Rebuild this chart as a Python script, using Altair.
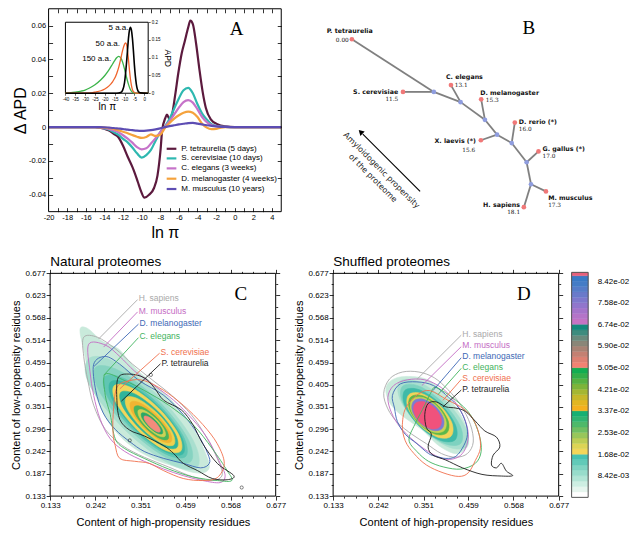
import altair as alt
import pandas as pd

W, H = 623, 522


def PX(v):
    return v * W / 640.0


def PY(v):
    return v * H / 539.0


SANS = "Liberation Sans"
SERIF = "Liberation Serif"
TREEF = "DejaVu Sans"
MINUS = "\u2212"

# ============================ DATA: panel A ============================
lnpi_grid = [-20, -15, -14.5, -14, -13.5, -13, -12.5, -12, -11.5, -11, -10.5, -10, -9.5, -9, -8.5, -8,
             -7.5, -7, -6.5, -6, -5.5, -5, -4.5, -4, -3.5, -3, -2.5, -2, -1.5, -1, 0, 5]
ptet_x = [-20, -15, -14.5, -14, -13.5, -13, -12.5, -12, -11.5, -11, -10.75, -10.4, -10.06, -9.7, -9.2,
          -8.67, -8.3, -7.97, -7.8, -7.45, -7.28, -7.0, -6.76, -6.4, -6.06, -5.7, -5.36, -5.0, -4.77,
          -4.49, -4.14, -3.79, -3.44, -3.1, -2.57, -1.87, -1.0, 0, 5]
ptet_y = [0, 0, -0.0003, -0.001, -0.002, -0.004, -0.006, -0.011, -0.0175, -0.0235, -0.027, -0.0326,
          -0.038, -0.0417, -0.040, -0.036, -0.0287, -0.0135, -0.002, 0.0055, 0.0074, 0.0046, 0.0068,
          0.0189, 0.032, 0.0436, 0.051, 0.0589, 0.063, 0.0608, 0.049, 0.034, 0.0207, 0.0113, 0.0046,
          0.0017, 0.0004, 0, 0]
scer_y = [0, 0, -0.0002, -0.0008, -0.0015, -0.003, -0.0045, -0.007, -0.009, -0.012, -0.0155, -0.018,
          -0.0165, -0.0135, -0.008, -0.003, 0.0005, 0.005, 0.011, 0.017, 0.0218, 0.0232, 0.020, 0.0135,
          0.008, 0.0045, 0.0018, 0.0008, 0.0003, 0.0001, 0, 0]
cele_y = [0, 0, -0.0002, -0.0006, -0.001, -0.002, -0.003, -0.0048, -0.0068, -0.0092, -0.0118, -0.0131,
          -0.0125, -0.0097, -0.0065, -0.003, 0.0003, 0.0035, 0.0075, 0.0115, 0.0148, 0.016, 0.0145,
          0.0105, 0.006, 0.003, 0.0013, 0.0006, 0.0002, 0.0001, 0, 0]
dmel_y = [0, 0, -0.0001, -0.0003, -0.0006, -0.001, -0.0018, -0.0027, -0.0036, -0.0047, -0.0057, -0.0064,
          -0.0058, -0.0043, -0.0052, -0.0045, -0.0005, 0.0025, 0.005, 0.007, 0.0085, 0.0092, 0.0085,
          0.006, 0.002, -0.0003, -0.0012, -0.001, -0.0003, 0, 0, 0]
mmus_y = [0, 0, 0, -0.0001, -0.0003, -0.0005, -0.0008, -0.0011, -0.0015, -0.0018, -0.0021, -0.0022,
          -0.0021, -0.0018, -0.0013, -0.0007, 0, 0.0006, 0.0011, 0.0016, 0.002, 0.0024, 0.0025, 0.0021,
          0.0016, 0.0011, 0.0007, 0.0004, 0.0002, 0.0001, 0, 0]
A_names = ["P. tetraurelia (5 days)", "S. cerevisiae (10 days)", "C. elegans (3  weeks)",
           "D. melanogaster (4 weeks)", "M. musculus (10 years)"]
A_colors = ["#5c1a3e", "#2eb8b0", "#c673c9", "#f5a23c", "#5d4db3"]
A_legend_y = [-0.0128, -0.0185, -0.0244, -0.0305, -0.0366]

# inset
black_x = [-40, -14, -12, -11, -10, -9, -8.5, -8, -7.5, -7, -6.5, -6, -5.5, -5, -4.5, -4, -3, -2, 2]
black_y = [0, 0, 0.002, 0.008, 0.03, 0.085, 0.12, 0.155, 0.178, 0.186, 0.178, 0.155, 0.12, 0.08, 0.048,
           0.025, 0.005, 0.001, 0]
red_x = [-40, -30, -27, -25, -22, -20, -18, -16, -15, -14, -13, -12, -11, -10, -9.5, -9, -8.5, -8, -7.5,
         -7, -6.5, -6, -5, -4, 2]
red_y = [0, 0, 0.001, 0.003, 0.007, 0.012, 0.02, 0.033, 0.042, 0.055, 0.072, 0.095, 0.12, 0.138, 0.142,
         0.138, 0.12, 0.095, 0.065, 0.04, 0.022, 0.01, 0.002, 0, 0]
green_x = [-40, -38, -35, -32, -30, -28, -25, -22, -20, -18, -16, -15, -14, -13, -12, -11, -10, -9, -8,
           -7, -6, -5, -4, 2]
green_y = [0, 0.001, 0.003, 0.006, 0.009, 0.014, 0.024, 0.038, 0.05, 0.065, 0.083, 0.092, 0.1, 0.104,
           0.1, 0.088, 0.068, 0.045, 0.025, 0.01, 0.003, 0.001, 0, 0]
inset_labels = ["5 a.a.", "50 a.a.", "150 a.a."]
inset_label_x = [-8.0, -12.3, -16.8]
inset_label_y = [0.183, 0.140, 0.097]

# ============================ DATA: panel B (tree) ============================
leaf_names = ["P. tetraurelia", "S. cerevisiae", "C. elegans", "D. melanogaster", "X. laevis (*)",
              "D. rerio (*)", "G. gallus (*)", "M. musculus", "H. sapiens"]
leaf_vals = ["0.00", "11.5", "13.1", "15.3", "15.6", "16.0", "17.0", "17.3", "18.1"]
leaf_x = [10.4, 26.8, 42.2, 51.9, 51.8, 62.7, 70.3, 72.7, 65.6]
leaf_y = [61.8, 44.8, 47.0, 42.4, 29.2, 34.9, 25.6, 12.7, 7.6]
node_x = [36.7, 45.3, 53.1, 57.0, 61.7, 66.5, 67.9]
node_y = [44.8, 41.5, 35.8, 31.0, 28.3, 22.1, 15.0]
edge_from = ["L0", "L1", "N0", "L2", "N1", "L3", "N2", "L4", "N3", "L5", "N4", "L6", "N5", "L7", "L8"]
edge_to = ["N0", "N0", "N1", "N1", "N2", "N2", "N3", "N3", "N4", "N4", "N5", "N5", "N6", "N6", "N6"]
name_x = [9.7, 25.3, 40.6, 51.6, 50.2, 64.0, 71.6, 73.4, 64.4]
name_y = [64.4, 44.8, 49.7, 44.4, 28.8, 35.2, 26.5, 10.6, 8.4]
name_align = ["center", "right", "left", "left", "right", "left", "left", "left", "right"]
val_x = [9.4, 25.3, 43.4, 53.4, 47.9, 64.0, 71.6, 73.4, 64.4]
val_y = [61.7, 42.6, 46.9, 42.3, 26.2, 32.9, 24.0, 8.3, 6.0]
val_align = ["right", "right", "left", "left", "center", "left", "left", "left", "right"]
arrow_x = [32.3, 13.9]
arrow_y = [12.7, 31.2]
arrow_text = ["Amyloidogenic propensity", "of the proteome"]
arrow_text_x = [19.8, 17.0]
arrow_text_y = [19.4, 16.9]

# ============================ DATA: panels C and D ============================
x_ticks = [0.133, 0.242, 0.351, 0.459, 0.568, 0.677]
y_ticks = [0.133, 0.187, 0.242, 0.296, 0.351, 0.405, 0.459, 0.514, 0.568, 0.623, 0.677]

C_fill_x = [
    [0.205, 0.224, 0.259, 0.297, 0.320, 0.348, 0.384, 0.421, 0.456, 0.487, 0.508, 0.517, 0.503, 0.473,
     0.431, 0.384, 0.337, 0.297, 0.266, 0.243, 0.226, 0.215],
    [0.4875, 0.477, 0.3935, 0.286, 0.225, 0.228, 0.3115, 0.419],
    [0.4725, 0.4636, 0.3925, 0.301, 0.2425, 0.2515, 0.3225, 0.414],
    [0.46, 0.4534, 0.3935, 0.3155, 0.265, 0.2717, 0.3315, 0.4096],
    [0.4535, 0.4477, 0.394, 0.324, 0.2785, 0.2844, 0.338, 0.408],
    [0.4475, 0.4425, 0.3935, 0.3294, 0.2875, 0.2926, 0.3415, 0.4057],
    [0.4385, 0.4339, 0.3925, 0.3385, 0.3035, 0.3081, 0.3495, 0.4035],
    [0.4315, 0.4278, 0.3925, 0.3465, 0.3165, 0.3203, 0.3555, 0.4016],
    [0.4245, 0.4213, 0.3915, 0.3527, 0.3275, 0.3308, 0.3605, 0.3994],
    [0.417, 0.4145, 0.39, 0.3579, 0.337, 0.3395, 0.364, 0.3961],
    [0.41, 0.408, 0.3885, 0.3628, 0.346, 0.348, 0.3675, 0.3932],
    [0.4035, 0.4019, 0.3865, 0.3665, 0.3535, 0.3552, 0.3705, 0.3906],
    [0.398, 0.3967, 0.385, 0.3698, 0.36, 0.3613, 0.373, 0.3882],
]
C_fill_y = [
    [0.540, 0.542, 0.511, 0.493, 0.467, 0.436, 0.405, 0.372, 0.329, 0.282, 0.237, 0.204, 0.190, 0.192,
     0.206, 0.223, 0.249, 0.284, 0.327, 0.379, 0.433, 0.485],
    [0.2025, 0.271, 0.3785, 0.462, 0.468, 0.404, 0.2965, 0.213],
    [0.2175, 0.276, 0.3675, 0.4386, 0.4475, 0.389, 0.2975, 0.2265],
    [0.23, 0.2805, 0.3585, 0.4184, 0.425, 0.3746, 0.2965, 0.2367],
    [0.2365, 0.282, 0.352, 0.4057, 0.4115, 0.366, 0.296, 0.2424],
    [0.2425, 0.2844, 0.3485, 0.3975, 0.4025, 0.3607, 0.2965, 0.2476],
    [0.2515, 0.2865, 0.3405, 0.3819, 0.3865, 0.3515, 0.2975, 0.2561],
    [0.2585, 0.2885, 0.3345, 0.3698, 0.3735, 0.3436, 0.2975, 0.2623],
    [0.2655, 0.2907, 0.3295, 0.3593, 0.3625, 0.3374, 0.2985, 0.2688],
    [0.272, 0.2929, 0.325, 0.3495, 0.352, 0.3311, 0.299, 0.2745],
    [0.279, 0.2958, 0.3215, 0.341, 0.343, 0.3262, 0.3005, 0.281],
    [0.2855, 0.2985, 0.3185, 0.3339, 0.3355, 0.3226, 0.3025, 0.2872],
    [0.29, 0.2998, 0.315, 0.3267, 0.328, 0.3182, 0.303, 0.2913],
]
C_fill_col = ["#c9eadb", "#a9dfcf", "#86d3c1", "#5fc6b3", "#3bb8a5", "#f2d65c", "#2fb49b", "#eed04e",
              "#f0b432", "#4bb45a", "#cbd255", "#2aa866", "#f28c7c"]

D_fill_x = [
    [0.260, 0.269, 0.295, 0.335, 0.366, 0.389, 0.412, 0.436, 0.452, 0.459, 0.457, 0.436, 0.412, 0.382,
     0.351, 0.319, 0.288, 0.269],
    [0.454, 0.4528, 0.4055, 0.3397, 0.294, 0.2952, 0.3425, 0.4083],
    [0.4405, 0.4402, 0.399, 0.3412, 0.3005, 0.3009, 0.342, 0.3999],
    [0.4273, 0.4281, 0.393, 0.3426, 0.3063, 0.3055, 0.3405, 0.391],
    [0.4173, 0.4196, 0.3908, 0.3478, 0.3158, 0.3135, 0.3423, 0.3853],
    [0.4075, 0.4106, 0.3863, 0.3487, 0.32, 0.3169, 0.3413, 0.3788],
    [0.401, 0.4046, 0.3835, 0.3502, 0.324, 0.3205, 0.3415, 0.3749],
    [0.3955, 0.3994, 0.381, 0.3513, 0.3275, 0.3237, 0.342, 0.3718],
    [0.3895, 0.3934, 0.378, 0.3524, 0.3315, 0.3277, 0.343, 0.3687],
]
D_fill_y = [
    [0.391, 0.412, 0.424, 0.424, 0.415, 0.396, 0.372, 0.339, 0.308, 0.277, 0.254, 0.237, 0.242, 0.261,
     0.292, 0.315, 0.339, 0.362],
    [0.253, 0.2987, 0.3645, 0.4118, 0.413, 0.3673, 0.3015, 0.2542],
    [0.2615, 0.3022, 0.36, 0.4012, 0.4015, 0.3609, 0.303, 0.2619],
    [0.2703, 0.3066, 0.357, 0.3921, 0.3913, 0.355, 0.3045, 0.2695],
    [0.2793, 0.3113, 0.3543, 0.3831, 0.3808, 0.3488, 0.3058, 0.277],
    [0.2875, 0.3162, 0.3538, 0.3781, 0.375, 0.3463, 0.3088, 0.2844],
    [0.293, 0.3192, 0.3525, 0.3736, 0.37, 0.3439, 0.3105, 0.2895],
    [0.2975, 0.3213, 0.351, 0.3694, 0.3655, 0.3418, 0.312, 0.2937],
    [0.3015, 0.3224, 0.348, 0.3634, 0.3595, 0.3387, 0.313, 0.2977],
]
D_fill_col = ["#c9eadb", "#a9dfcf", "#7ed2c0", "#3fbaa8", "#f2d45a", "#5ab84c", "#c9d254", "#7d7bd2",
              "#f0527c"]

sp_names = ["H. sapiens", "M. musculus", "D. melanogaster", "C. elegans", "S. cerevisiae", "P. tetraurelia"]
sp_colors = ["#a9a9a9", "#c46cc4", "#3d68b5", "#3fb35e", "#f0704e", "#1e1e1e"]

C_sp_x = [
    [0.214, 0.247, 0.290, 0.332, 0.379, 0.426, 0.473, 0.508, 0.536, 0.548, 0.524, 0.477, 0.419, 0.360,
     0.308, 0.266, 0.238, 0.224, 0.214],
    [0.226, 0.266, 0.301, 0.337, 0.384, 0.431, 0.477, 0.513, 0.543, 0.555, 0.543, 0.501, 0.454, 0.407,
     0.360, 0.313, 0.278, 0.254, 0.238, 0.229],
    [0.238, 0.266, 0.301, 0.348, 0.407, 0.454, 0.489, 0.513, 0.517, 0.496, 0.454, 0.407, 0.360, 0.325,
     0.290, 0.261, 0.243],
    [0.266, 0.313, 0.360, 0.419, 0.477, 0.524, 0.560, 0.571, 0.536, 0.477, 0.419, 0.360, 0.313, 0.290,
     0.278, 0.266],
    [0.294, 0.325, 0.360, 0.407, 0.454, 0.501, 0.536, 0.553, 0.536, 0.501, 0.454, 0.407, 0.372, 0.337,
     0.301, 0.290, 0.285, 0.285],
    [0.297, 0.325, 0.360, 0.384, 0.407, 0.449, 0.477, 0.501, 0.536, 0.576, 0.560, 0.524, 0.489, 0.454,
     0.431, 0.407, 0.360, 0.325, 0.301, 0.294],
]
C_sp_y = [
    [0.521, 0.521, 0.493, 0.455, 0.417, 0.379, 0.332, 0.280, 0.225, 0.185, 0.171, 0.180, 0.204, 0.228,
     0.256, 0.296, 0.355, 0.415, 0.474],
    [0.504, 0.502, 0.474, 0.438, 0.403, 0.367, 0.320, 0.273, 0.213, 0.183, 0.166, 0.171, 0.183, 0.199,
     0.218, 0.242, 0.273, 0.320, 0.379, 0.438],
    [0.455, 0.474, 0.455, 0.415, 0.379, 0.332, 0.284, 0.237, 0.213, 0.202, 0.213, 0.225, 0.242, 0.266,
     0.296, 0.336, 0.391],
    [0.431, 0.415, 0.391, 0.355, 0.308, 0.249, 0.195, 0.171, 0.171, 0.180, 0.199, 0.225, 0.249, 0.273,
     0.332, 0.379],
    [0.398, 0.415, 0.415, 0.391, 0.355, 0.308, 0.261, 0.213, 0.178, 0.171, 0.176, 0.195, 0.213, 0.218,
     0.225, 0.256, 0.284, 0.332],
    [0.422, 0.431, 0.422, 0.398, 0.367, 0.344, 0.308, 0.261, 0.213, 0.183, 0.173, 0.176, 0.195, 0.213,
     0.237, 0.256, 0.280, 0.294, 0.320, 0.367],
]
D_sp_x = [
    [0.255, 0.269, 0.300, 0.340, 0.377, 0.410, 0.441, 0.464, 0.471, 0.457, 0.429, 0.394, 0.358, 0.323,
     0.288, 0.265],
    [0.265, 0.279, 0.312, 0.354, 0.394, 0.424, 0.448, 0.459, 0.452, 0.434, 0.405, 0.370, 0.330, 0.295,
     0.274],
    [0.276, 0.295, 0.335, 0.375, 0.412, 0.436, 0.452, 0.457, 0.448, 0.429, 0.405, 0.382, 0.363, 0.335,
     0.307, 0.288, 0.281],
    [0.382, 0.429, 0.464, 0.485, 0.490, 0.476, 0.441, 0.400, 0.363, 0.335, 0.316, 0.330, 0.354, 0.368],
    [0.312, 0.358, 0.410, 0.448, 0.471, 0.485, 0.488, 0.476, 0.459, 0.436, 0.398, 0.358, 0.328, 0.307,
     0.300],
    [0.362, 0.382, 0.405, 0.429, 0.452, 0.476, 0.499, 0.527, 0.535, 0.519, 0.515, 0.527, 0.539, 0.551,
     0.566, 0.539, 0.492, 0.445, 0.405, 0.374, 0.362, 0.370, 0.358, 0.354],
]
D_sp_y = [
    [0.384, 0.419, 0.436, 0.436, 0.422, 0.393, 0.355, 0.308, 0.265, 0.237, 0.228, 0.237, 0.261, 0.284,
     0.313, 0.346],
    [0.374, 0.403, 0.417, 0.417, 0.398, 0.367, 0.327, 0.284, 0.249, 0.228, 0.223, 0.237, 0.266, 0.301,
     0.336],
    [0.379, 0.407, 0.412, 0.403, 0.374, 0.348, 0.315, 0.284, 0.256, 0.230, 0.225, 0.230, 0.237, 0.261,
     0.284, 0.315, 0.348],
    [0.398, 0.367, 0.332, 0.284, 0.242, 0.213, 0.199, 0.204, 0.218, 0.242, 0.270, 0.308, 0.355, 0.384],
    [0.355, 0.391, 0.367, 0.346, 0.320, 0.284, 0.249, 0.220, 0.190, 0.181, 0.190, 0.209, 0.237, 0.268,
     0.308],
    [0.359, 0.363, 0.351, 0.348, 0.340, 0.316, 0.292, 0.277, 0.253, 0.233, 0.209, 0.202, 0.213, 0.194,
     0.183, 0.182, 0.186, 0.202, 0.221, 0.233, 0.253, 0.284, 0.300, 0.332],
]
C_lab_x = [0.344, 0.344, 0.346, 0.346, 0.397, 0.399]
C_lab_y = [0.616, 0.586, 0.556, 0.523, 0.485, 0.459]
C_lead_x = [0.250, 0.262, 0.239, 0.262, 0.301, 0.305]
C_lead_y = [0.517, 0.497, 0.450, 0.428, 0.395, 0.365]
D_lab_x = [0.442, 0.442, 0.442, 0.442, 0.442, 0.442]
D_lab_y = [0.529, 0.501, 0.474, 0.448, 0.421, 0.395]
D_lead_x = [0.335, 0.347, 0.374, 0.386, 0.398, 0.398]
D_lead_y = [0.418, 0.403, 0.391, 0.381, 0.367, 0.351]
C_dot_x = [0.325, 0.595, 0.376]
C_dot_y = [0.269, 0.154, 0.429]

# colour bar
cb_edges = [0, 0.0021, 0.0042, 0.0063, 0.0084, 0.0105, 0.0126, 0.0147, 0.0168, 0.0189, 0.0210, 0.0231,
            0.0253, 0.0274, 0.0295, 0.0316, 0.0337, 0.0358, 0.0379, 0.0400, 0.0421, 0.0442, 0.0463,
            0.0484, 0.0505, 0.0526, 0.0547, 0.0568, 0.0589, 0.0610, 0.0631, 0.0652, 0.0674, 0.0695,
            0.0716, 0.0737, 0.0758, 0.0779, 0.0800, 0.0821, 0.0842, 0.0863, 0.0876]
cb_colors = ["#ffffff", "#e6f5ee", "#cdeee2", "#b2e5d6", "#98dccb", "#80d4c2", "#62cab8", "#45c1b1",
             "#f3d65a", "#dcd455", "#bccd55", "#98c65a", "#70be62", "#4eb96a", "#30b471", "#16b073",
             "#f5b01e", "#e2b622", "#c6b82a", "#a4b732", "#7db43a", "#56b142", "#33ae4a", "#12ad52",
             "#f28272", "#de8072", "#c48072", "#a88274", "#8a8678", "#6a8a7c", "#3e8c7e", "#13897c",
             "#c574c4", "#b474c8", "#a474ca", "#9176cc", "#7e78cc", "#6a7aca", "#567cc8", "#447cc6",
             "#3a7ac6", "#e8607c"]
cb_label_values = [0.0842, 0.0758, 0.0674, 0.0590, 0.0505, 0.0421, 0.0337, 0.0253, 0.0168, 0.00842]

# ============================ geometry ============================
A_XD, A_XR = [-20, 5], [PX(41.7), PX(280.7)]
A_YD, A_YR = [-0.05, 0.07], [PY(210.3), PY(0.8)]
I_XD, I_XR = [-40, 2], [PX(59), PX(144)]
I_YD, I_YR = [0, 0.2], [PY(88), PY(14.7)]
B_XD, B_XR = [0, 100], [PX(320), PX(640)]
B_YD, B_YR = [0, 71.875], [PY(230), PY(0)]
P_D = [0.133, 0.677]
C_XR = [PX(43.3), PX(275)]
D_XR = [PX(334), PX(565.7)]
CD_YR = [PY(504), PY(274)]
K_XD, K_XR = [0, 1], [PX(579), PX(596)]
K_YD, K_YR = [0, 0.0876], [PY(505.3), PY(273)]


def sc(dom, rng):
    return alt.Scale(domain=list(dom), range=list(rng), zero=False, nice=False)


def XY(g, xf="x", yf="y"):
    xd, xr, yd, yr = g
    return dict(x=alt.X(f"{xf}:Q", scale=sc(xd, xr), axis=None),
                y=alt.Y(f"{yf}:Q", scale=sc(yd, yr), axis=None))


GA = (A_XD, A_XR, A_YD, A_YR)
GI = (I_XD, I_XR, I_YD, I_YR)
GB = (B_XD, B_XR, B_YD, B_YR)
GC = (P_D, C_XR, P_D, CD_YR)
GD = (P_D, D_XR, P_D, CD_YR)
GK = (K_XD, K_XR, K_YD, K_YR)


def line(xs, ys, g, color, sw, interp="monotone", fill=None):
    df = pd.DataFrame({"x": xs, "y": ys, "i": list(range(len(xs)))})
    kw = dict(interpolate=interp, strokeWidth=sw, stroke=color)
    if fill is not None:
        kw["fill"] = fill
    return alt.Chart(df).mark_line(**kw).encode(order=alt.Order("i:Q"), **XY(g))


def texts(xs, ys, ts, g, colors=None, **mk):
    df = pd.DataFrame({"x": xs, "y": ys, "t": ts})
    enc = XY(g)
    enc["text"] = alt.Text("t:N")
    if colors is not None:
        df["c"] = colors
        enc["color"] = alt.Color("c:N", scale=None)
    return alt.Chart(df).mark_text(**mk).encode(**enc)


def rules(x1, y1, x2, y2, g, colors, sw):
    df = pd.DataFrame({"x": x1, "y": y1, "x2": x2, "y2": y2, "c": colors})
    enc = XY(g)
    return alt.Chart(df).mark_rule(strokeWidth=sw).encode(
        x2=alt.X2("x2:Q"), y2=alt.Y2("y2:Q"), color=alt.Color("c:N", scale=None), **enc)


def frame(g, fill="transparent", stroke="black", sw=1.0):
    xd, xr, yd, yr = g
    df = pd.DataFrame({"x": [xd[0]], "x2": [xd[1]], "y": [yd[0]], "y2": [yd[1]]})
    return alt.Chart(df).mark_rect(fill=fill, stroke=stroke, strokeWidth=sw).encode(
        x2=alt.X2("x2:Q"), y2=alt.Y2("y2:Q"), **XY(g))


def axis_layer(ch, dom, rng, orient, pos, values, **kw):
    off = {"bottom": pos - H, "top": -pos, "left": -pos, "right": pos - W}[orient]
    opts = dict(orient=orient, offset=off, values=list(values), grid=False, labelFlush=False,
                labelOverlap=False, title=None, ticks=False, domain=False, labels=True)
    opts.update(kw)
    ax = alt.Axis(**opts)
    df = pd.DataFrame({"v": list(dom)})
    enc = {ch: (alt.X if ch == "x" else alt.Y)("v:Q", scale=sc(dom, rng), axis=ax)}
    return alt.Chart(df).mark_point(opacity=0).encode(**enc)


def ticks(ch, dom, rng, orient, pos, values, size=4, width=0.8):
    return axis_layer(ch, dom, rng, orient, pos, values, labels=False, ticks=True, tickSize=size,
                      tickWidth=width, tickColor="black")


def labels(ch, dom, rng, orient, pos, values, fs, pad, **kw):
    return axis_layer(ch, dom, rng, orient, pos, values, labelFont=SANS, labelFontSize=fs,
                      labelColor="black", labelPadding=pad, titleFont=SANS,
                      titleFontWeight="normal", titleColor="black", **kw)


FIXMINUS = "replace(datum.label, '" + MINUS + "', '-')"

layers = []

# ============================ Panel A ============================
A_series_x = [ptet_x, lnpi_grid, lnpi_grid, lnpi_grid, lnpi_grid]
A_series_y = [ptet_y, scer_y, cele_y, dmel_y, mmus_y]
for xs, ys, col in zip(A_series_x, A_series_y, A_colors):
    layers.append(line(xs, ys, GA, col, 2.2))

layers.append(rules([-7.31] * 5, A_legend_y, [-6.27] * 5, A_legend_y, GA, A_colors, 2.2))
layers.append(texts([-5.74] * 5, A_legend_y, A_names, GA, align="left", baseline="middle",
                    font=SANS, fontSize=8, color="black"))
layers.append(texts([0.2], [0.058], ["A"], GA, align="center", baseline="middle", font=SERIF,
                    fontSize=19, color="black"))
layers.append(frame(GA))

A_xt = list(range(-20, 5, 2))
A_xminor = list(range(-19, 5))
A_yt = [-0.04, -0.02, 0, 0.02, 0.04, 0.06]
A_yminor = [-0.04, -0.03, -0.02, -0.01, 0, 0.01, 0.02, 0.03, 0.04, 0.05, 0.06]
layers.append(labels("x", A_XD, A_XR, "bottom", A_YR[0], A_xt, 7.5, 2, labelExpr=FIXMINUS,
                     title="ln \u03c0", titleFontSize=16, titlePadding=3))
layers.append(ticks("x", A_XD, A_XR, "top", A_YR[0], A_xminor, 4))
layers.append(ticks("x", A_XD, A_XR, "bottom", A_YR[1], A_xminor, 4))
layers.append(labels("y", A_YD, A_YR, "left", A_XR[0], A_yt, 7.5, 3,
                     labelExpr="datum.value == 0 ? '0' : " + FIXMINUS,
                     title="\u0394 APD", titleFontSize=16, titlePadding=0))
layers.append(ticks("y", A_YD, A_YR, "right", A_XR[0], A_yminor, 4))
layers.append(ticks("y", A_YD, A_YR, "left", A_XR[1], A_yminor, 4))

# inset
layers.append(frame(GI, fill="white"))
layers.append(line(green_x, green_y, GI, "#3cb44a", 1.3))
layers.append(line(red_x, red_y, GI, "#f0642c", 1.3))
layers.append(line(black_x, black_y, GI, "#000000", 1.6))
layers.append(texts(inset_label_x, inset_label_y, inset_labels, GI, align="right", baseline="middle",
                    font=SANS, fontSize=8, color="black"))
layers.append(labels("x", I_XD, I_XR, "bottom", I_YR[0], list(range(-40, 1, 5)), 4.5, 1,
                     labelExpr=FIXMINUS, ticks=True, tickSize=2, tickWidth=0.6, tickColor="black",
                     title="ln \u03c0", titleFontSize=10, titlePadding=1))
layers.append(labels("y", I_YD, I_YR, "right", I_XR[1], [0, 0.05, 0.1, 0.15, 0.2], 4.5, 1,
                     format="~g", ticks=True, tickSize=2, tickWidth=0.6, tickColor="black",
                     title="APD", titleFontSize=8.5, titlePadding=3))

# ============================ Panel B ============================


def tree_pos(key):
    i = int(key[1:])
    return (leaf_x[i], leaf_y[i]) if key[0] == "L" else (node_x[i], node_y[i])


e1 = [tree_pos(k) for k in edge_from]
e2 = [tree_pos(k) for k in edge_to]
layers.append(rules([p[0] for p in e1], [p[1] for p in e1], [p[0] for p in e2], [p[1] for p in e2],
                    GB, ["#808080"] * len(e1), 1.8))
node_df = pd.DataFrame({"x": leaf_x + node_x, "y": leaf_y + node_y,
                        "c": ["#f07878"] * len(leaf_x) + ["#8f9ddf"] * len(node_x)})
layers.append(alt.Chart(node_df).mark_circle(size=22, opacity=1).encode(
    color=alt.Color("c:N", scale=None), **XY(GB)))
for al in ["left", "right", "center"]:
    idx = [i for i, a in enumerate(name_align) if a == al]
    if idx:
        layers.append(texts([name_x[i] for i in idx], [name_y[i] for i in idx],
                            [leaf_names[i] for i in idx], GB, align=al, baseline="middle",
                            font=TREEF, fontSize=6.3, fontWeight="bold", color="#111111"))
    idx = [i for i, a in enumerate(val_align) if a == al]
    if idx:
        layers.append(texts([val_x[i] for i in idx], [val_y[i] for i in idx],
                            [leaf_vals[i] for i in idx], GB, align=al, baseline="middle",
                            font="DejaVu Serif", fontSize=5.8, color="#111111"))
layers.append(rules([arrow_x[0]], [arrow_y[0]], [arrow_x[1]], [arrow_y[1]], GB, ["black"], 1.1))
layers.append(alt.Chart(pd.DataFrame({"x": [arrow_x[1] - 0.5], "y": [arrow_y[1] + 0.5]})).mark_point(
    shape="triangle", angle=315, filled=True, size=38, color="black", opacity=1).encode(**XY(GB)))
layers.append(texts(arrow_text_x, arrow_text_y, arrow_text, GB, align="center", baseline="middle",
                    angle=45, font=TREEF, fontSize=8, color="#222222"))
layers.append(texts([67.2], [65.4], ["B"], GB, align="center", baseline="middle", font=SERIF,
                    fontSize=19, color="black"))

# ============================ Panels C and D ============================
y_minor = [(a + b) / 2 for a, b in zip(y_ticks[:-1], y_ticks[1:])]
x_minor = sorted(set(y_ticks + y_minor) - set(x_ticks))


def density_panel(g, xr, fx, fy, fcol, spx, spy, labx, laby, leadx, leady, title_txt, letter,
                  left_title):
    out = []
    for xs, ys, col in zip(fx, fy, fcol):
        out.append(line(xs, ys, g, col, 0.6, interp="cardinal-closed", fill=col))
    for xs, ys, col in zip(spx, spy, sp_colors):
        out.append(line(xs, ys, g, col, 0.9, interp="cardinal-closed"))
    out.append(rules(labx, [v - 0.003 for v in laby], leadx, leady, g, sp_colors, 0.9))
    out.append(texts(labx, laby, sp_names, g, colors=sp_colors, align="left", baseline="middle",
                     font=SANS, fontSize=8.5, dx=1))
    out.append(texts([0.133], [0.705], [title_txt], g, align="left", baseline="middle", font=SANS,
                     fontSize=13.5, color="black"))
    out.append(texts([0.593], [0.627], [letter], g, align="center", baseline="middle", font=SERIF,
                     fontSize=19, color="black"))
    out.append(frame(g))
    out.append(labels("x", P_D, xr, "bottom", CD_YR[0], x_ticks, 8, 1, format=".3f", ticks=True,
                      tickSize=4, tickWidth=0.8, tickColor="black",
                      title="Content of high-propensity residues", titleFontSize=11, titlePadding=7))
    out.append(ticks("x", P_D, xr, "bottom", CD_YR[0], x_minor, 2))
    out.append(ticks("x", P_D, xr, "top", CD_YR[1], x_ticks, 4))
    out.append(ticks("x", P_D, xr, "top", CD_YR[1], x_minor, 2))
    out.append(labels("y", P_D, CD_YR, "left", xr[0], y_ticks, 8, 1, format=".3f", ticks=True,
                      tickSize=4, tickWidth=0.8, tickColor="black",
                      title=left_title, titleFontSize=11, titlePadding=4))
    out.append(ticks("y", P_D, CD_YR, "left", xr[0], y_minor, 2))
    out.append(ticks("y", P_D, CD_YR, "right", xr[1], y_ticks, 4))
    out.append(ticks("y", P_D, CD_YR, "right", xr[1], y_minor, 2))
    return out


layers += density_panel(GC, C_XR, C_fill_x, C_fill_y, C_fill_col, C_sp_x, C_sp_y, C_lab_x, C_lab_y,
                        C_lead_x, C_lead_y, "Natural proteomes", "C",
                        "Content of low-propensity residues")
dot_df = pd.DataFrame({"x": C_dot_x, "y": C_dot_y})
layers.append(alt.Chart(dot_df).mark_point(shape="circle", filled=False, size=10, color="black",
                                           strokeWidth=0.7).encode(**XY(GC)))
layers += density_panel(GD, D_XR, D_fill_x, D_fill_y, D_fill_col, D_sp_x, D_sp_y, D_lab_x, D_lab_y,
                        D_lead_x, D_lead_y, "Shuffled proteomes", "D",
                        "Content of low-propensity residues")

# colour bar
cb_df = pd.DataFrame({"x": [0] * len(cb_colors), "x2": [1] * len(cb_colors), "y": cb_edges[:-1],
                      "y2": cb_edges[1:], "c": cb_colors})
layers.append(alt.Chart(cb_df).mark_rect(strokeWidth=0.4).encode(
    x2=alt.X2("x2:Q"), y2=alt.Y2("y2:Q"), color=alt.Color("c:N", scale=None),
    stroke=alt.Stroke("c:N", scale=None), **XY(GK)))
layers.append(frame(GK, stroke="#555555", sw=1.0))
layers.append(labels("y", K_YD, K_YR, "right", K_XR[1], cb_label_values, 8, 9,
                     labelExpr="replace(format(datum.value, '.2e'), 'e-', 'e-0')"))

chart = alt.layer(*layers).resolve_scale(x="independent", y="independent").properties(
    width=W, height=H, autosize=alt.AutoSizeParams(type="none"), padding=0, background="white"
).configure_view(stroke=None)

chart.save("out.html", embed_options={"renderer": "svg", "actions": False})
